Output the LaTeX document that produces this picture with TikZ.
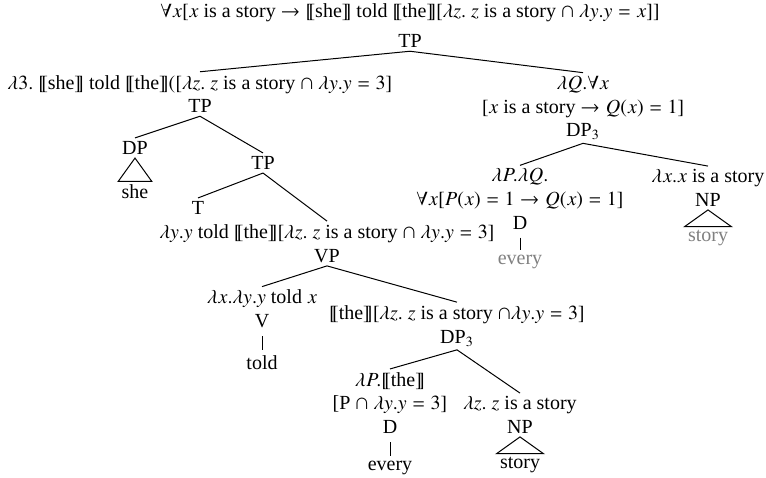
\documentclass[tikz,border=0pt]{standalone}
\usepackage{txfonts}
\usepackage{fontspec}
\setmainfont{Liberation Serif}
\usepackage{tikz}
\definecolor{LeafGray}{RGB}{128,128,128}

\begin{document}
\begin{tikzpicture}[x=0.5pt, y=-0.5pt, line width=0.5pt,
    cat/.style={align=center, inner sep=1.5pt, font=\fontsize{10}{11.8}\selectfont},
    leaf/.style={cat},
    gleaf/.style={cat, text=LeafGray},
    stem/.style={shorten <=2.5pt, shorten >=1pt}]
  \useasboundingbox (0,0) rectangle (766,477);

  % Root
  \node[cat] (root) at (410,25.5) {$\forall x[x$ is a story $\rightarrow \llbracket$she$\rrbracket$ told $\llbracket$the$\rrbracket[\lambda z.\ z$ is a story $\cap\ \lambda y.y = x]]$\\[3.5pt]TP};

  % Left branch
  \node[cat] (tpa) at (200,94) {$\lambda 3.$ $\llbracket$she$\rrbracket$ told $\llbracket$the$\rrbracket([\lambda z.\ z$ is a story $\cap\ \lambda y.y = 3]$\\TP};
  \node[cat] (dp) at (135,148) {DP};
  \node[leaf] (she) at (135,192) {she};
  \node[cat] (tpb) at (263,163) {TP};
  \node[cat] (t) at (198,208) {T};
  \node[cat] (vp) at (327,243.5) {$\lambda y.y$ told $\llbracket$the$\rrbracket[\lambda z.\ z$ is a story $\cap\ \lambda y.y = 3]$\\VP};
  \node[cat] (v) at (262,309) {$\lambda x.\lambda y.y$ told $x$\\V};
  \node[leaf] (told) at (262,363) {told};
  \node[cat] (dpl) at (457,326) {$\llbracket$the$\rrbracket[\lambda z.\ z$ is a story $\cap\lambda y.y = 3]$\\DP$_3$};
  \node[cat] (dlo) at (390,403) {$\lambda P.\llbracket$the$\rrbracket$\\{[}P $\cap\ \lambda y.y = 3]$\\D};
  \node[leaf] (everyl) at (390,468) {every};
  \node[cat] (npl) at (520,415) {$\lambda z.\ z$ is a story\\NP};
  \node[leaf] (storyl) at (520,465) {story};

  % Right branch
  \node[cat] (dpr) at (583,108) {$\lambda Q.\forall x$\\$[x$ is a story $\rightarrow Q(x) = 1]$\\DP$_3$};
  \node[cat] (dri) at (520,199) {$\lambda P.\lambda Q.$\\$\forall x[P(x) = 1 \rightarrow Q(x) = 1]$\\D};
  \node[gleaf] (everyr) at (520,262) {every};
  \node[cat] (npr) at (708,188) {$\lambda x.x$ is a story\\NP};
  \node[gleaf] (storyr) at (708,238) {story};

  % Branches
  \draw (root.south) -- (tpa.north);
  \draw (root.south) -- (dpr.north);
  \draw (tpa.south) -- (dp.north);
  \draw (tpa.south) -- (tpb.north);
  \draw (tpb.south) -- (t.north);
  \draw (tpb.south) -- (vp.north);
  \draw (vp.south) -- (v.north);
  \draw (vp.south) -- (dpl.north);
  \draw (dpl.south) -- (dlo.north);
  \draw (dpl.south) -- (npl.north);
  \draw (dpr.south) -- (dri.north);
  \draw (dpr.south) -- (npr.north);

  % Leaves
  \draw (dp.south) -- (she.north east) -- (she.north west) -- cycle;
  \draw[stem] (v.south) -- (told.north);
  \draw[stem] (dlo.south) -- (everyl.north);
  \draw (npl.south) -- (storyl.north east) -- (storyl.north west) -- cycle;
  \draw[stem] (dri.south) -- (everyr.north);
  \draw (npr.south) -- (storyr.north east) -- (storyr.north west) -- cycle;
\end{tikzpicture}
\end{document}
